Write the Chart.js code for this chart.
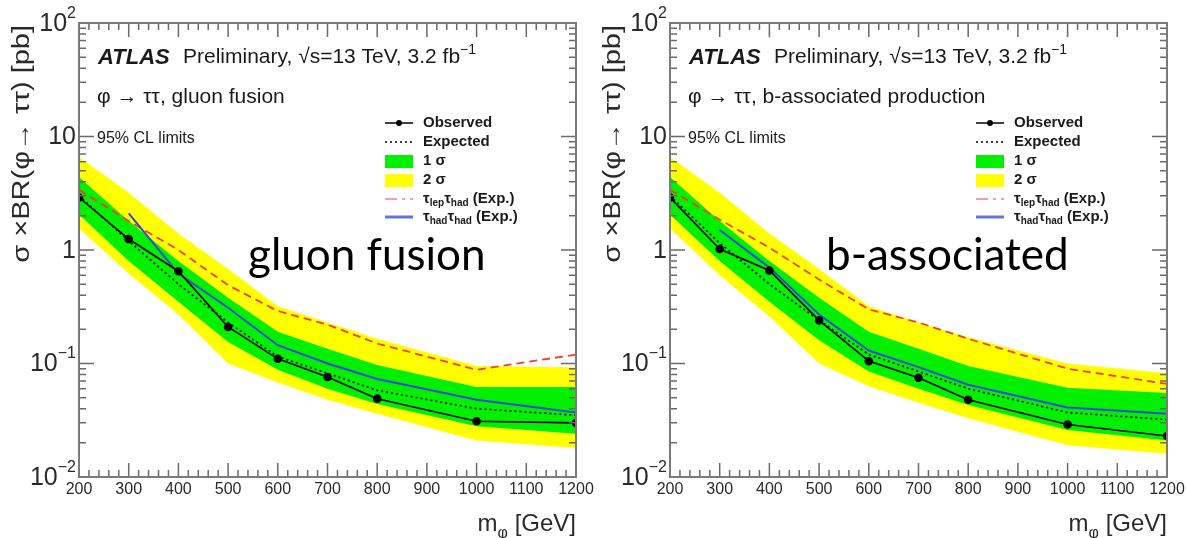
<!DOCTYPE html>
<html>
<head>
<meta charset="utf-8">
<script src="https://cdn.jsdelivr.net/npm/chart.js@4.4.0/dist/chart.umd.min.js"></script>
<style>
  html, body { margin: 0; padding: 0; background: #fff; }
  #wrap { position: relative; width: 1186px; height: 538px; overflow: hidden; }
  .pane { position: absolute; top: 0; }
</style>
</head>
<body>
<div id="wrap">
  <canvas id="ggf" class="pane" width="601" height="538" style="left:0"></canvas>
  <canvas id="bba" class="pane" width="601" height="538" style="left:591px"></canvas>
</div>
<script>
// mass points (GeV)
const mass = [200, 300, 400, 500, 600, 700, 800, 1000, 1200];

// gluon fusion, 95% CL limits on sigma x BR [pb]
const ggObs    = [2.9, 1.25, 0.65, 0.21, 0.11, 0.076, 0.049, 0.031, 0.030];
const ggExp    = [3.0, 1.2, 0.5, 0.23, 0.115, 0.082, 0.058, 0.040, 0.035];
const ggOneLo  = [2.05, 0.8, 0.35, 0.155, 0.088, 0.06, 0.044, 0.028, 0.024];
const ggOneHi  = [4.4, 1.8, 0.8, 0.38, 0.19, 0.135, 0.097, 0.062, 0.062];
const ggTwoLo  = [1.55, 0.62, 0.27, 0.1, 0.068, 0.048, 0.036, 0.021, 0.018];
const ggTwoHi  = [6.6, 3.2, 1.4, 0.68, 0.32, 0.23, 0.165, 0.095, 0.092];
const ggLepHad = [3.4, 1.8, 1.0, 0.49, 0.29, 0.22, 0.15, 0.088, 0.12];
const ggHadHad = [null, 2.1, 0.62, 0.31, 0.145, 0.1, 0.073, 0.048, 0.037];

// b-associated production
const bbObs    = [2.9, 1.02, 0.66, 0.24, 0.105, 0.075, 0.048, 0.029, 0.023];
const bbExp    = [3.0, 1.15, 0.5, 0.24, 0.12, 0.085, 0.06, 0.037, 0.032];
const bbOneLo  = [2.05, 0.8, 0.35, 0.16, 0.085, 0.06, 0.043, 0.026, 0.021];
const bbOneHi  = [4.4, 1.8, 0.8, 0.38, 0.19, 0.135, 0.095, 0.061, 0.055];
const bbTwoLo  = [1.55, 0.6, 0.26, 0.1, 0.063, 0.045, 0.033, 0.019, 0.016];
const bbTwoHi  = [6.6, 3.2, 1.4, 0.68, 0.32, 0.23, 0.17, 0.1, 0.082];
const bbLepHad = [3.4, 1.85, 1.05, 0.55, 0.3, 0.23, 0.165, 0.09, 0.066];
const bbHadHad = [null, 1.5, 0.7, 0.27, 0.13, 0.093, 0.065, 0.041, 0.036];

// axis ticks
const xTickLabels = [200, 300, 400, 500, 600, 700, 800, 900, 1000, 1100, 1200];
const yTickVals = [0.01, 0.1, 1, 10, 100];
const yTickLabels = ['10^-2', '10^-1', '1', '10', '10^2'];

const ROOTFONT = '"Liberation Sans", Arial, sans-serif';

function pts(arr) {
  return mass.map((m, i) => ({ x: m, y: arr[i] }));
}

// draws text made of pieces: [string, mode] with mode 0 normal, 1 subscript, 2 superscript
function rich(ctx, parts, x, y, size, align, weight) {
  weight = weight || 'normal';
  const fontOf = p => weight + ' ' + (p[1] ? Math.round(size * 0.65) : size) + 'px ' + ROOTFONT;
  let w = 0;
  parts.forEach(p => { ctx.font = fontOf(p); w += ctx.measureText(p[0]).width; });
  let cx = align === 'right' ? x - w : (align === 'center' ? x - w / 2 : x);
  ctx.textAlign = 'left';
  parts.forEach(p => {
    ctx.font = fontOf(p);
    let dy = p[1] === 1 ? size * 0.28 : (p[1] === 2 ? -size * 0.42 : 0);
    ctx.fillText(p[0], cx, y + dy);
    cx += ctx.measureText(p[0]).width;
  });
}

function tickLabelParts(s) {
  const k = s.indexOf('^');
  if (k < 0) return [[s, 0]];
  return [[s.slice(0, k), 0], [s.slice(k + 1).replace('-', '\u2212'), 2]];
}

const rootFrame = {
  id: 'rootFrame',
  afterDraw(chart, args, opts) {
    const { ctx, chartArea: { left, right, top, bottom }, scales: { x, y } } = chart;
    ctx.save();
    // ticks
    ctx.strokeStyle = '#6a6a6a';
    ctx.lineWidth = 1.5;
    ctx.beginPath();
    for (let v = 200; v <= 1200; v += 20) {
      const px = x.getPixelForValue(v);
      const len = v % 100 === 0 ? 14 : 7;
      ctx.moveTo(px, bottom); ctx.lineTo(px, bottom - len);
      ctx.moveTo(px, top); ctx.lineTo(px, top + len);
    }
    for (let d = 0.01; d < 100; d *= 10) {
      for (let k = 1; k <= 10; k++) {
        const v = d * k;
        if (v > 100.0001) break;
        const py = y.getPixelForValue(v);
        const len = (k === 1 || k === 10) ? 15 : 7;
        ctx.moveTo(left, py); ctx.lineTo(left + len, py);
        ctx.moveTo(right, py); ctx.lineTo(right - len, py);
      }
    }
    ctx.stroke();
    // frame
    ctx.strokeStyle = '#7a7a7a';
    ctx.lineWidth = 2;
    ctx.strokeRect(left, top, right - left, bottom - top);

    // tick labels
    ctx.fillStyle = '#2a2a2a';
    ctx.textBaseline = 'middle';
    xTickLabels.forEach(v => {
      rich(ctx, [[String(v), 0]], x.getPixelForValue(v), bottom + 13, 16, 'center');
    });
    yTickVals.forEach((v, i) => {
      rich(ctx, tickLabelParts(yTickLabels[i]), left - 3, y.getPixelForValue(v) + 1, 25, 'right');
    });

    // axis titles
    ctx.textBaseline = 'alphabetic';
    rich(ctx, [['m', 0], ['\u03c6', 1], [' [GeV]', 0]], right, 531, 24, 'right');
    ctx.save();
    ctx.translate(29, top + 2);
    ctx.rotate(-Math.PI / 2);
    ctx.scale(1, 0.82);
    rich(ctx, [['\u03c3 \u00d7BR(\u03c6\u2192 \u03c4\u03c4) [pb]', 0]], 0, 0, 29, 'right');
    ctx.restore();

    // ATLAS label and process text
    const tx = left + 19;
    ctx.fillStyle = '#1a1a1a';
    rich(ctx, [['ATLAS', 0]], tx, top + 41, 22, 'left', 'italic bold');
    rich(ctx, [['Preliminary, \u221as=13 TeV, 3.2 fb', 0], ['\u22121', 2]], tx + 85, top + 40, 21, 'left');
    rich(ctx, [[opts.process, 0]], tx - 1, top + 80, 21, 'left');
    rich(ctx, [['95% CL limits', 0]], tx - 1, top + 120, 16, 'left');

    // legend
    const lx = left + 306, lw = 28, tl = left + 344;
    const rows = [top + 100, top + 119, top + 138, top + 157, top + 176, top + 194];
    ctx.lineWidth = 1.5;
    ctx.strokeStyle = '#000';
    ctx.beginPath(); ctx.moveTo(lx, rows[0]); ctx.lineTo(lx + lw, rows[0]); ctx.stroke();
    ctx.fillStyle = '#000';
    ctx.beginPath(); ctx.arc(lx + lw / 2, rows[0], 3, 0, Math.PI * 2); ctx.fill();
    ctx.setLineDash([2, 3]);
    ctx.beginPath(); ctx.moveTo(lx, rows[1]); ctx.lineTo(lx + lw, rows[1]); ctx.stroke();
    ctx.setLineDash([]);
    ctx.fillStyle = '#00f000'; ctx.fillRect(lx, rows[2] - 6, lw, 13);
    ctx.fillStyle = '#ffff00'; ctx.fillRect(lx, rows[3] - 6, lw, 13);
    ctx.strokeStyle = '#f4a0a0'; ctx.lineWidth = 2;
    ctx.setLineDash([12, 5, 3, 5]);
    ctx.beginPath(); ctx.moveTo(lx, rows[4]); ctx.lineTo(lx + lw, rows[4]); ctx.stroke();
    ctx.setLineDash([]);
    ctx.strokeStyle = '#6670e8'; ctx.lineWidth = 3;
    ctx.beginPath(); ctx.moveTo(lx, rows[5]); ctx.lineTo(lx + lw, rows[5]); ctx.stroke();

    ctx.fillStyle = '#1a1a1a';
    ctx.textBaseline = 'middle';
    rich(ctx, [['Observed', 0]], tl, rows[0], 15, 'left', 'bold');
    rich(ctx, [['Expected', 0]], tl, rows[1], 15, 'left', 'bold');
    rich(ctx, [['1 \u03c3', 0]], tl, rows[2], 15, 'left', 'bold');
    rich(ctx, [['2 \u03c3', 0]], tl, rows[3], 15, 'left', 'bold');
    rich(ctx, [['\u03c4', 0], ['lep', 1], ['\u03c4', 0], ['had', 1], [' (Exp.)', 0]], tl, rows[4], 15, 'left', 'bold');
    rich(ctx, [['\u03c4', 0], ['had', 1], ['\u03c4', 0], ['had', 1], [' (Exp.)', 0]], tl, rows[5], 15, 'left', 'bold');

    // slide caption
    ctx.fillStyle = '#000';
    ctx.textBaseline = 'alphabetic';
    ctx.font = '44px Lato, "Open Sans", sans-serif';
    ctx.textAlign = 'left';
    ctx.fillText(opts.caption, opts.capX, 270);
    ctx.restore();
  }
};

function makeChart(id, s) {
  return new Chart(document.getElementById(id), {
    type: 'line',
    data: {
      datasets: [
        { data: pts(s.twoHi), fill: '+1', backgroundColor: '#ffff00', borderWidth: 0, pointRadius: 0, order: 6 },
        { data: pts(s.twoLo), fill: false, borderWidth: 0, pointRadius: 0, order: 6 },
        { data: pts(s.oneHi), fill: '+1', backgroundColor: '#00f000', borderWidth: 0, pointRadius: 0, order: 5 },
        { data: pts(s.oneLo), fill: false, borderWidth: 0, pointRadius: 0, order: 5 },
        { data: pts(s.lepHad), fill: false, borderColor: '#f0402a', borderWidth: 1.8, borderDash: [8, 5], pointRadius: 0, order: 4 },
        { data: pts(s.hadHad), fill: false, borderColor: '#3a48d8', borderWidth: 2, pointRadius: 0, order: 3 },
        { data: pts(s.exp), fill: false, borderColor: '#000', borderWidth: 1.6, borderDash: [2, 3], pointRadius: 0, order: 2 },
        { data: pts(s.obs), fill: false, borderColor: '#000', borderWidth: 1.6, pointRadius: 3.5,
          pointBackgroundColor: '#000', pointBorderColor: '#000', order: 1 }
      ]
    },
    options: {
      responsive: false,
      animation: false,
      devicePixelRatio: 1,
      layout: { padding: { top: 23, right: 25, left: 0, bottom: 0 } },
      plugins: {
        legend: { display: false },
        tooltip: { enabled: false },
        rootFrame: { process: s.process, caption: s.caption, capX: s.capX }
      },
      scales: {
        x: {
          type: 'linear', min: 200, max: 1200,
          grid: { display: false }, border: { display: false }, ticks: { display: false },
          afterFit(scale) { scale.height = 61; }
        },
        y: {
          type: 'logarithmic', min: 0.01, max: 100,
          grid: { display: false }, border: { display: false }, ticks: { display: false },
          afterFit(scale) { scale.width = 79; }
        }
      }
    },
    plugins: [rootFrame]
  });
}

makeChart('ggf', {
  obs: ggObs, exp: ggExp, oneLo: ggOneLo, oneHi: ggOneHi, twoLo: ggTwoLo, twoHi: ggTwoHi,
  lepHad: ggLepHad, hadHad: ggHadHad,
  process: '\u03c6 \u2192 \u03c4\u03c4, gluon fusion', caption: 'gluon fusion', capX: 248
});
makeChart('bba', {
  obs: bbObs, exp: bbExp, oneLo: bbOneLo, oneHi: bbOneHi, twoLo: bbTwoLo, twoHi: bbTwoHi,
  lepHad: bbLepHad, hadHad: bbHadHad,
  process: '\u03c6 \u2192 \u03c4\u03c4, b-associated production', caption: 'b-associated', capX: 235
});
</script>
</body>
</html>
